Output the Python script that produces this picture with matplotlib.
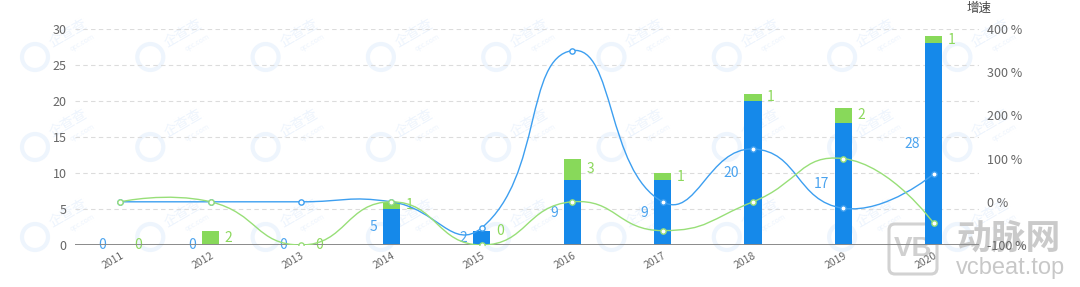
import numpy as np
import matplotlib.pyplot as plt
from matplotlib.path import Path
from matplotlib.patches import PathPatch, FancyBboxPatch, Circle
from matplotlib.transforms import IdentityTransform

plt.rcParams["font.family"] = ["Noto Sans CJK SC", "DejaVu Sans"]

years = ["2011", "2012", "2013", "2014", "2015", "2016", "2017", "2018", "2019", "2020"]
blue_cnt = [0, 0, 0, 5, 2, 9, 9, 20, 17, 28]
green_cnt = [0, 2, 0, 1, 0, 3, 1, 1, 2, 1]
blue_rate = [0, 0, 0, 0, -60, 350, 0, 122.2, -15, 64.7]
green_rate = [0, 0, -100, 0, -100, 0, -66.7, 0, 100, -50]
left_ticks = [0, 5, 10, 15, 20, 25, 30]
right_ticks = [-100, 0, 100, 200, 300, 400]

BLUE = "#1589ea"
GREEN = "#88d95a"
BLUE_LINE = "#3d9ff0"
GREEN_LINE = "#98df78"
BLUE_TXT = "#4aa3ef"
GREEN_TXT = "#8cd85c"
GRAY = "#666666"

W, H = 1080, 287
fig = plt.figure(figsize=(W / 100, H / 100), dpi=100)
pix = IdentityTransform()

# faint watermarks (behind everything)
for cx in np.arange(20, 990, 115.3):
    for cy in [45, 135, 225]:
        fig.add_artist(Circle((cx + 15, H - cy - 12), 13, transform=pix,
                              fc="none", ec="#eef5fd", lw=3, zorder=-5))
        fig.text(cx + 48, H - cy + 12, "企查查", transform=pix, rotation=30,
                 fontsize=10, color="#edf4fd", ha="center", va="center", zorder=-5)
        fig.text(cx + 62, H - cy + 2, "qcc.com", transform=pix, rotation=30,
                 fontsize=5, color="#edf4fd", ha="center", va="center", zorder=-5)

fig.add_artist(FancyBboxPatch((889, H - 274), 48, 50, boxstyle="round,pad=0,rounding_size=6",
                              transform=pix, fill=False, ec="#d2d2d2", lw=2.2, zorder=-4))
fig.text(913, H - 249, "VB", transform=pix, fontsize=20, color="#d0d0d0",
         fontweight="bold", ha="center", va="center", family="Liberation Sans", zorder=-4)
fig.text(1009, H - 238, "动脉网", transform=pix, fontsize=25, color="#cacaca",
         fontweight="bold", ha="center", va="center", zorder=-4)
fig.text(1010, H - 268, "vcbeat.top", transform=pix, fontsize=17, color="#c8c8c8",
         ha="center", va="center", family="Liberation Sans", zorder=-4)

ax = fig.add_axes([75 / W, 42 / H, 904 / W, 216 / H])
ax2 = ax.twinx()
for a in (ax, ax2):
    a.set_facecolor("none")
    for s in a.spines.values():
        s.set_visible(False)

x = np.arange(len(years))
bw = 0.19
ax.set_xlim(-0.5, len(years) - 0.5)
ax.set_ylim(0, 30)
ax2.set_ylim(-100, 400)

ax.bar(x, blue_cnt, width=bw, color=BLUE, zorder=2)
ax.bar(x, green_cnt, width=bw, bottom=blue_cnt, color=GREEN, zorder=2)

for i in range(len(years)):
    ax.annotate(str(blue_cnt[i]), (x[i] - bw / 2, blue_cnt[i] / 2), xytext=(-4, 0),
                textcoords="offset points", ha="right", va="center",
                fontsize=10, color=BLUE_TXT, zorder=3)
    ax.annotate(str(green_cnt[i]), (x[i] + bw / 2, blue_cnt[i] + green_cnt[i] / 2),
                xytext=(4, 0), textcoords="offset points", ha="left", va="center",
                fontsize=10, color=GREEN_TXT, zorder=3)

ax.set_yticks(left_ticks)
ax.set_yticklabels([str(t) for t in left_ticks])
ax.grid(axis="y", ls=(0, (4, 3)), color="#dcdcdc", lw=0.8, zorder=0)
ax.axhline(0, color="#8a8a8a", lw=1.4, zorder=4)
ax.tick_params(axis="y", length=0, pad=6, labelsize=9, labelcolor=GRAY)
ax.set_xticks(x)
ax.set_xticklabels(years, rotation=30, ha="right", va="top", rotation_mode="anchor")
ax.tick_params(axis="x", length=0, pad=4, labelsize=7.5, labelcolor=GRAY)

ax2.set_yticks(right_ticks)
ax2.set_yticklabels([f"{t} %" for t in right_ticks])
ax2.tick_params(axis="y", length=0, pad=6, labelsize=9, labelcolor=GRAY)
ax2.text(len(years) - 0.5, 449, "增速", ha="center", va="center",
         fontsize=9, color="#444444", clip_on=False)


def smooth_path(a, xs, ys, smooth=0.5):
    pts = a.transData.transform(np.column_stack([xs, ys]))
    n = len(pts)
    verts = [pts[0]]
    codes = [Path.MOVETO]
    cp0 = pts[0]
    for i in range(1, n):
        p = pts[i]
        if i == n - 1:
            ncp = p
            v = np.zeros(2)
            ratio = 0.5
        else:
            v = pts[i + 1] - pts[i - 1]
            d0 = np.hypot(*(p - pts[i - 1]))
            d1 = np.hypot(*(pts[i + 1] - p))
            ratio = d1 / (d0 + d1) if d0 + d1 > 0 else 0.5
            ncp = p - v * smooth * (1 - ratio)
        verts += [cp0, ncp, p]
        codes += [Path.CURVE4] * 3
        cp0 = p + v * smooth * ratio
    verts = a.transData.inverted().transform(np.array(verts))
    return Path(verts, codes)


for rate, col in [(blue_rate, BLUE_LINE), (green_rate, GREEN_LINE)]:
    ax2.add_patch(PathPatch(smooth_path(ax2, x, rate), fill=False, ec=col, lw=1.0, zorder=3))
    ax2.plot(x, rate, ls="none", marker="o", ms=3.8, mfc="white", mec=col, mew=1.0, zorder=4)

fig.savefig("out.png", dpi=100)
